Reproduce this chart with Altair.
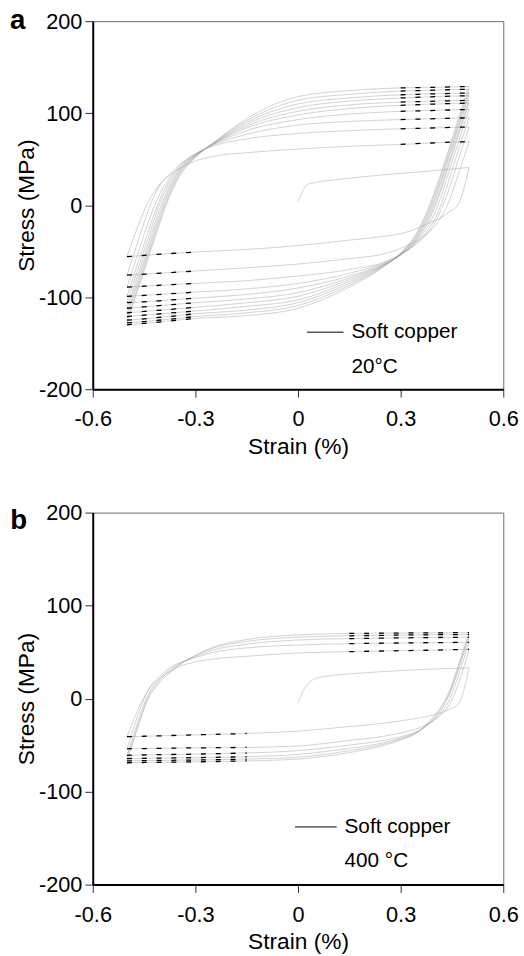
import altair as alt
import pandas as pd

# strain stations (%) for tension (up) and compression (down) branches
T_STRAIN = [-0.5, -0.47, -0.44, -0.41, -0.38, -0.35, -0.3, -0.25, -0.15, 0.0, 0.15, 0.3, 0.45, 0.5]
C_STRAIN = [0.5, 0.47, 0.44, 0.41, 0.38, 0.35, 0.3, 0.25, 0.15, 0.0, -0.15, -0.3, -0.45, -0.5]

# ---- panel a : 20 °C ----
A_INIT_STRAIN = [0.0, 0.031, 0.12, 0.25, 0.4, 0.5]
A_INIT_STRESS = [4, 23, 28, 33, 37.5, 41]
A_C1 = [41, 2, -8, -15, -20, -25, -31, -34, -38, -44, -48, -51, -54.5, -56]
A_T2 = [-56, -25, 2, 20, 31, 39, 48, 53, 57, 61, 64, 66, 68.5, 69]
A_C2 = [69, 35, 3, -18, -30, -38, -47, -53, -58, -64, -68, -71.5, -75, -76]
A_T3 = [-76, -42, -8, 18, 32, 43, 56, 64, 72, 78, 81, 83, 84.5, 85]
A_C3 = [85, 51, 16, -12, -30, -41, -53, -62, -70, -77, -82, -85, -88, -89]
A_T4 = [-89, -55, -21, 8, 27, 41, 55.5, 65, 77, 87, 91, 93, 94.5, 95]
A_C4 = [95, 61, 26, -7, -27, -40, -54, -63, -74, -85, -91, -94.5, -98, -99]
A_T5 = [-99, -65, -31, 1, 24, 40, 55, 65.5, 81, 93, 99, 102, 103.5, 104]
A_C5 = [104, 70, 35, 1, -23, -38, -54, -64, -77, -90, -97, -101, -105, -106]
A_T6 = [-106, -72, -38, -4, 21, 38, 54.5, 66, 84, 98, 105, 108.5, 110.5, 111]
A_C6 = [111, 77, 42, 8, -19, -36, -54, -64.5, -79, -95, -102, -106, -110.5, -112]
A_T7 = [-112, -78, -44, -10, 17, 36, 54, 66, 86, 102, 109, 112, 113.5, 114]
A_C7 = [114, 80, 45, 11, -16, -35, -54, -65, -81, -99, -106, -111, -115.5, -117]
A_T8 = [-117, -83, -49, -15, 14, 35, 53.5, 66.5, 88, 106, 113, 116.5, 118.5, 119]
A_C8 = [119, 85, 50, 16, -13, -33, -53.5, -65.5, -83, -103, -110, -115, -119.5, -121]
A_T9 = [-121, -87, -53, -19, 11, 33, 53, 66.5, 90, 110, 116.5, 120, 121.5, 122]
A_C9 = [122, 88, 53, 19, -10, -32, -53, -66, -85, -106, -114, -118, -123.5, -125]
A_T10 = [-125, -91, -57, -23, 8, 31, 52.5, 67, 92, 114, 120.5, 124, 125.5, 126]
A_C10 = [126, 92, 57, 23, -7, -30, -52.5, -66.5, -87, -109, -117, -121, -126.5, -128]
A_T11 = [-128, -94, -60, -26, 5, 29, 52, 67, 94, 118, 124.5, 127.5, 128.5, 129]
A_C11 = [129, 95, 60, 26, -4, -28, -52, -67, -89, -112, -120, -123, -128.5, -130]

# ---- panel b : 400 °C ----
B_INIT_STRAIN = [0.0, 0.021, 0.064, 0.25, 0.5]
B_INIT_STRESS = [-5, 12, 23, 29, 33]
B_C1 = [33, -5, -12, -16, -19, -21, -24, -26.5, -30, -35, -37.5, -39, -40.5, -41]
B_T2 = [-41, -14, 8, 20, 28, 34, 39.5, 42.5, 45.5, 49, 50.5, 51.5, 52.5, 53]
B_C2 = [53, 17, -8, -20, -27, -32, -37, -40.5, -45, -51, -52.5, -53, -53.7, -54]
B_T3 = [-54, -20, 8, 22, 32, 38, 44, 49.5, 54.5, 57.5, 59, 59.8, 60.3, 60.5]
B_C3 = [60.5, 26, -3, -19, -28, -35, -41, -45, -50, -56, -58.5, -59.7, -60.6, -61]
B_T4 = [-61, -27, 3, 19, 30, 37, 45, 52, 58.5, 63, 64.5, 65.3, 65.8, 66]
B_C4 = [66, 32, 2, -17, -28, -35.5, -42.5, -47.5, -53.5, -60, -62.5, -63.5, -64.2, -64.5]
B_T5 = [-64.5, -31, 0, 17, 28, 36, 46, 54, 61.5, 66, 67.5, 68.3, 68.8, 69]
B_C5 = [69, 35, 4, -15, -27, -36, -43.5, -49, -56, -63, -65, -66, -66.7, -67]
B_T6 = [-67, -33, -2, 15, 26, 35, 46.5, 55, 63.5, 68.5, 70, 70.5, 70.8, 71]
B_C6 = [71, 37, 6, -13, -26, -36, -44.5, -50.5, -58, -65, -67, -68, -68.7, -69]

A_BRANCHES = [A_C1, A_T2, A_C2, A_T3, A_C3, A_T4, A_C4, A_T5, A_C5, A_T6, A_C6,
              A_T7, A_C7, A_T8, A_C8, A_T9, A_C9, A_T10, A_C10, A_T11, A_C11]
B_BRANCHES = [B_C1, B_T2, B_C2, B_T3, B_C3, B_T4, B_C4, B_T5, B_C5, B_T6, B_C6]

# legend annotation (data coordinates)
LEG_A = {"x": 0.026, "x2": 0.133, "y": -138, "tx": 0.156, "t1": "Soft copper", "t2": "20°C", "y2": -176}
LEG_B = {"x": -0.009, "x2": 0.113, "y": -138, "tx": 0.136, "t1": "Soft copper", "t2": "400 °C", "y2": -175}

FONT = "Liberation Sans"


def build_frame(init_strain, init_stress, branches, dash_from):
    rows = []
    for e, s in zip(init_strain, init_stress):
        rows.append({"branch": 0, "strain": e, "stress": s, "flat": e >= 0.45})
    for i, br in enumerate(branches):
        tension = (i % 2 == 1)
        st = T_STRAIN if tension else C_STRAIN
        for e, s in zip(st, br):
            flat = (e >= dash_from) if tension else (e <= -dash_from)
            rows.append({"branch": i + 1, "strain": e, "stress": s, "flat": flat})
    return pd.DataFrame(rows)


def panel(df, leg, letter, h, letter_x, letter_y):
    xs = alt.X("strain:Q", scale=alt.Scale(domain=[-0.6, 0.6], nice=False),
               axis=alt.Axis(values=[-0.6, -0.3, 0, 0.3, 0.6], title="Strain (%)", labelFlush=False,
                             labelExpr="datum.value == 0 ? '0' : (datum.value < 0 ? '-' : '') + format(abs(datum.value), '.1f')"))
    ys = alt.Y("stress:Q", scale=alt.Scale(domain=[-200, 200], nice=False),
               axis=alt.Axis(values=[-200, -100, 0, 100, 200], title="Stress (MPa)", labelFlush=False,
                             labelExpr="(datum.value < 0 ? '-' : '') + format(abs(datum.value), 'd')"))
    base = alt.Chart(df)
    grey = base.mark_line(interpolate="monotone", color="#9a9a9a", strokeWidth=0.75, opacity=0.6).encode(
        x=xs, y=ys, detail="branch:N")
    dash = base.transform_filter("datum.flat").mark_line(
        interpolate="monotone", color="black", strokeWidth=1.3, strokeDash=[5, 10]).encode(
        x="strain:Q", y="stress:Q", detail="branch:N")
    ldf = pd.DataFrame([leg])
    rule = alt.Chart(ldf).mark_rule(color="black", strokeWidth=1).encode(x="x:Q", x2="x2", y="y:Q")
    t1 = alt.Chart(ldf).mark_text(align="left", baseline="middle", font=FONT, fontSize=21, color="black").encode(
        x="tx:Q", y="y:Q", text="t1:N")
    t2 = alt.Chart(ldf).mark_text(align="left", baseline="middle", font=FONT, fontSize=21, color="black").encode(
        x="tx:Q", y="y2:Q", text="t2:N")
    lab = alt.Chart(pd.DataFrame({"l": [letter]})).mark_text(
        align="center", baseline="alphabetic", font=FONT, fontSize=28, fontWeight="bold", color="black").encode(
        x=alt.value(letter_x), y=alt.value(letter_y), text="l:N")
    return alt.layer(grey, dash, rule, t1, t2, lab).properties(width=416, height=h)


dfa = build_frame(A_INIT_STRAIN, A_INIT_STRESS, A_BRANCHES, 0.3)
dfb = build_frame(B_INIT_STRAIN, B_INIT_STRESS, B_BRANCHES, 0.15)

chart = alt.vconcat(panel(dfa, LEG_A, "a", 373, -76, 8),
                    panel(dfb, LEG_B, "b", 377, -75, 17), spacing=42).properties(
    padding={"left": 9, "top": 0, "right": 5, "bottom": 0}
).configure_view(stroke="#6e6e6e", strokeWidth=1).configure_axis(
    domainColor="black", domainWidth=2, tickColor="#333333", tickWidth=1, tickSize=8,
    labelFont=FONT, labelFontSize=22, labelColor="black",
    titleFont=FONT, titleFontSize=23, titleFontWeight="normal", titleColor="black", grid=False
).configure_axisY(titlePadding=0, labelPadding=3).configure_axisX(titlePadding=6, labelPadding=12)

chart.save("out.html", embed_options={"renderer": "svg", "actions": False})
